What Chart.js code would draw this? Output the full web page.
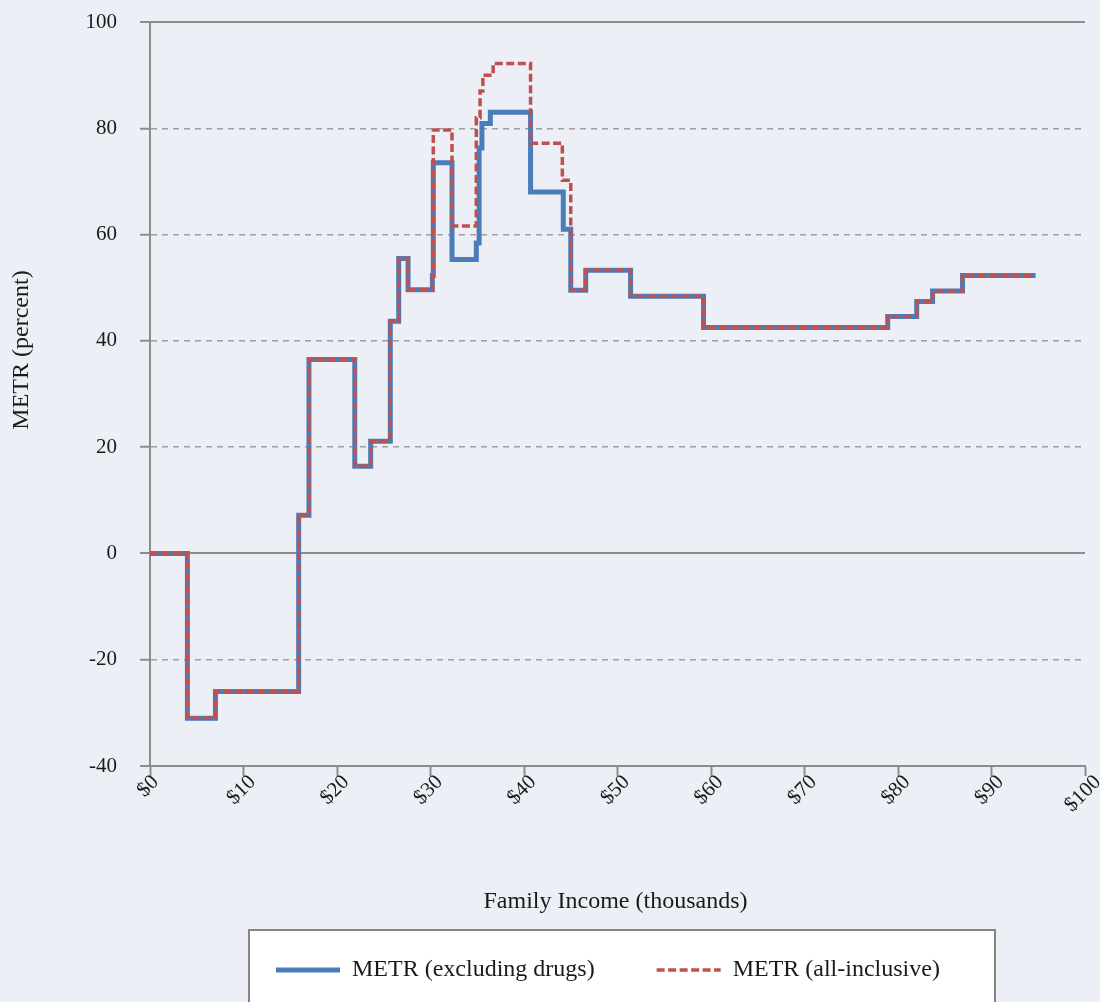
<!DOCTYPE html>
<html>
<head>
<meta charset="utf-8">
<script src="https://cdn.jsdelivr.net/npm/chart.js@4.4.0/dist/chart.umd.min.js"></script>
<style>
  html, body { margin: 0; padding: 0; background: #eceff6; }
  #wrap { width: 1100px; height: 1002px; position: relative; }
</style>
</head>
<body>
<div id="wrap"><canvas id="chart"></canvas></div>
<script>
"use strict";

// step starts (income, thousands) and the METR level from that point on
const incomeExcl = [0, 4.0, 7.0, 15.9, 17.0, 21.9, 23.6, 25.7, 26.6, 27.6, 30.2, 30.3, 32.3, 34.9, 35.2, 35.5, 36.4, 40.7, 44.2, 45.0, 46.6, 51.4, 59.2, 78.9, 82.0, 83.7, 86.9, 94.7];
const metrExcl   = [0, -31.0, -26.0, 7.2, 36.5, 16.4, 21.1, 43.7, 55.5, 49.6, 52.3, 73.5, 55.3, 58.4, 76.3, 80.9, 83.0, 68.0, 61.0, 49.5, 53.3, 48.4, 42.5, 44.6, 47.4, 49.4, 52.3, 52.3];

const incomeAll = [0, 4.0, 7.0, 15.9, 17.0, 21.9, 23.6, 25.7, 26.6, 27.6, 30.2, 30.3, 32.3, 34.9, 35.3, 35.6, 36.7, 40.7, 44.1, 45.0, 46.6, 51.4, 59.2, 78.9, 82.0, 83.7, 86.9, 94.7];
const metrAll   = [0, -31.0, -26.0, 7.2, 36.5, 16.4, 21.1, 43.7, 55.5, 49.6, 52.3, 79.7, 61.6, 82.0, 87.0, 90.0, 92.2, 77.2, 70.2, 49.5, 53.3, 48.4, 42.5, 44.6, 47.4, 49.4, 52.3, 52.3];

const incomeTicks = [0, 10, 20, 30, 40, 50, 60, 70, 80, 90, 100];
const incomeTickLabels = ['$0', '$10', '$20', '$30', '$40', '$50', '$60', '$70', '$80', '$90', '$100'];
const seriesNames = ['METR (excluding drugs)', 'METR (all-inclusive)'];
const xTitle = 'Family Income (thousands)';
const yTitle = 'METR (percent)';

const serif = "'Liberation Serif', 'DejaVu Serif', serif";
const textColor = '#1a1a1a';
const axisGray = '#8c8c8c';
const dashGray = '#a0a0a0';
const blue = '#4a7ebb';
const red = '#c0504d';

function toPoints(xs, ys) {
  const pts = [];
  for (let i = 0; i < xs.length; i++) {
    pts.push({ x: xs[i], y: ys[i] });
  }
  return pts;
}

function isSolidLine(v) {
  return v === 0 || v === 100 || v === -40;
}

// tick labels, axis titles and the boxed legend
const extrasPlugin = {
  id: 'extras',
  afterDraw(chart) {
    const ctx = chart.ctx;
    const xScale = chart.scales.x;
    const area = chart.chartArea;
    ctx.save();
    ctx.fillStyle = textColor;
    ctx.font = '21px ' + serif;

    for (let i = 0; i < incomeTicks.length; i++) {
      const label = incomeTickLabels[i];
      const w = ctx.measureText(label).width;
      const px = xScale.getPixelForValue(incomeTicks[i]);
      ctx.save();
      ctx.translate(px - 2, area.bottom + 13 + w * 0.354);
      ctx.rotate(-Math.PI / 4);
      ctx.textAlign = 'center';
      ctx.textBaseline = 'middle';
      ctx.fillText(label, 0, 0);
      ctx.restore();
    }

    ctx.font = '24px ' + serif;
    ctx.textAlign = 'center';
    ctx.textBaseline = 'middle';
    ctx.fillText(xTitle, (area.left + area.right) / 2 - 2, 902);

    ctx.save();
    ctx.translate(22, 350);
    ctx.rotate(-Math.PI / 2);
    ctx.fillText(yTitle, 0, 0);
    ctx.restore();

    // legend box
    const boxL = 249, boxT = 930, boxR = 995;
    ctx.fillStyle = '#ffffff';
    ctx.fillRect(boxL, boxT, boxR - boxL, 90);
    ctx.strokeStyle = '#858585';
    ctx.lineWidth = 2;
    ctx.strokeRect(boxL, boxT, boxR - boxL, 90);

    ctx.font = '24px ' + serif;
    ctx.textAlign = 'left';
    const sample = 64, gapText = 12, gapItem = 62;
    const w1 = ctx.measureText(seriesNames[0]).width;
    const w2 = ctx.measureText(seriesNames[1]).width;
    let x = boxL + 27;
    const ly = 970;
    const sets = chart.data.datasets;
    for (let i = 0; i < 2; i++) {
      const ds = sets[i];
      ctx.strokeStyle = ds.borderColor;
      ctx.lineWidth = ds.borderWidth;
      ctx.setLineDash(ds.borderDash || []);
      ctx.lineCap = 'butt';
      ctx.beginPath();
      ctx.moveTo(x, ly);
      ctx.lineTo(x + sample, ly);
      ctx.stroke();
      ctx.setLineDash([]);
      x += sample + gapText;
      ctx.fillStyle = textColor;
      ctx.fillText(seriesNames[i], x, ly);
      x += (i === 0 ? w1 : w2) + gapItem;
    }
    ctx.restore();
  }
};

const data = {
  datasets: [
    {
      label: seriesNames[0],
      data: toPoints(incomeExcl, metrExcl),
      borderColor: blue,
      borderWidth: 5,
      stepped: true,
      pointRadius: 0,
      fill: false,
      order: 1,
    },
    {
      label: seriesNames[1],
      data: toPoints(incomeAll, metrAll),
      borderColor: red,
      borderWidth: 3.5,
      borderDash: [8, 3.5],
      stepped: true,
      pointRadius: 0,
      fill: false,
      order: 0,
    },
  ],
};

const config = {
  type: 'line',
  data: data,
  plugins: [extrasPlugin],
  options: {
    responsive: true,
    maintainAspectRatio: false,
    animation: false,
    layout: { padding: { top: 22, right: 15, left: 0, bottom: 0 } },
    plugins: {
      legend: { display: false },
      tooltip: { enabled: false },
    },
    scales: {
      x: {
        type: 'linear',
        min: 0,
        max: 100,
        afterFit: (s) => { s.height = 236; s.paddingLeft = 0; s.paddingRight = 0; s.paddingTop = 0; s.paddingBottom = 0; },
        afterBuildTicks: (s) => { s.ticks = incomeTicks.map(v => ({ value: v })); },
        ticks: { display: false },
        grid: {
          drawOnChartArea: false,
          drawTicks: true,
          tickLength: 10,
          tickColor: axisGray,
          tickWidth: 2,
        },
        border: { color: axisGray, width: 2 },
      },
      y: {
        min: -40,
        max: 100,
        afterFit: (s) => { s.width = 150; s.paddingTop = 0; s.paddingBottom = 0; s.paddingLeft = 0; s.paddingRight = 0; },
        ticks: {
          stepSize: 20,
          padding: 23,
          color: textColor,
          font: { family: serif, size: 21 },
        },
        grid: {
          color: (c) => (c.tick && isSolidLine(c.tick.value)) ? axisGray : dashGray,
          lineWidth: (c) => (c.tick && isSolidLine(c.tick.value)) ? 2 : 1.5,
          drawTicks: true,
          tickLength: 10,
          tickColor: axisGray,
          tickWidth: 2,
          tickBorderDash: [],
        },
        border: {
          color: axisGray,
          width: 2,
          dash: (c) => (c.type === 'tick' && c.tick && !isSolidLine(c.tick.value)) ? [6, 5] : [],
        },
      },
    },
  },
};

const chartEl = document.getElementById('chart');
const myChart = new Chart(chartEl, config);
</script>
</body>
</html>
